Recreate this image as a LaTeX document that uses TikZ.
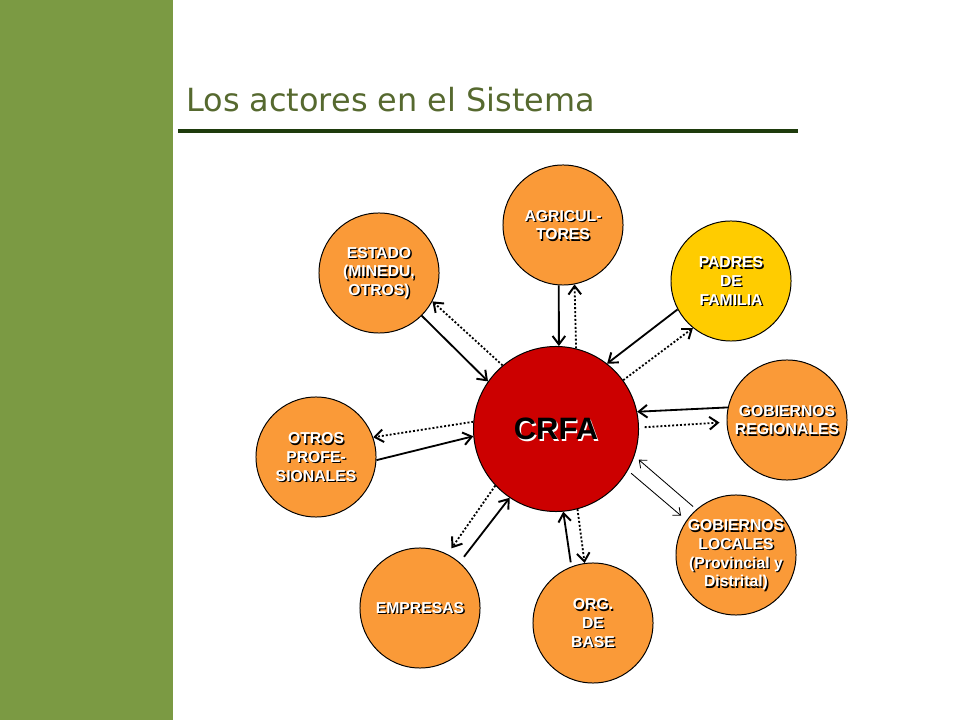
\documentclass[tikz,border=0pt]{standalone}
\usepackage{fontspec}
\setmainfont{Liberation Sans}
\newfontfamily\titlefont{DejaVu Sans}
\usepackage{tikz}
\usetikzlibrary{arrows.meta}

\definecolor{barra}{HTML}{7B9A43}
\definecolor{titulo}{HTML}{56692F}
\definecolor{raya}{HTML}{1E3B0C}
\definecolor{naranja}{HTML}{FA9A38}
\definecolor{rojo}{HTML}{CC0000}
\definecolor{amarillo}{HTML}{FFCC00}

% circulo con texto sombreado
\newcommand\actor[4][actor]{%
  \node[#1, path picture={\node[#1 sombra] at ([xshift=1pt,yshift=-1pt]path picture bounding box.center) {#4};}] (#2) at (#3) {#4};}

\begin{document}
\begin{tikzpicture}[x=0.025cm, y=-0.025cm,
    actor/.style={circle, draw=black, line width=.7pt, fill=naranja, minimum size=3cm, inner sep=0pt,
      align=center, text=white, font=\fontsize{11.2}{13.3}\selectfont\bfseries},
    actor sombra/.style={align=center, text=black, inner sep=0pt, font=\fontsize{11.2}{13.3}\selectfont\bfseries},
    padres/.style={actor, fill=amarillo},
    padres sombra/.style={actor sombra},
    centro/.style={circle, draw=black, line width=.7pt, fill=rojo, minimum size=4.125cm, inner sep=0pt,
      text=black, font=\fontsize{22}{24}\selectfont\bfseries},
    centro sombra/.style={text=white, inner sep=0pt, font=\fontsize{22}{24}\selectfont\bfseries},
    flecha/.style={line width=1.3pt, -{Straight Barb[length=6pt,width=9pt,line width=1.4pt]}},
    punteada/.style={flecha, dash pattern=on 1.4pt off 1.4pt},
    fina/.style={line width=.6pt, -{Straight Barb[length=4.5pt,width=7.5pt,line width=.6pt]}}]
    \useasboundingbox (0,0) rectangle (960,720);
    \fill[barra] (0,0) rectangle (173,720);  %barra lateral
    \node[anchor=base west, inner sep=0pt, text=titulo, font=\titlefont\fontsize{22.7}{26}\selectfont] (titulo) at (186,112) {Los actores en el Sistema};
    \draw[raya, line width=2.8pt] (178,131) -- (798,131);  %raya bajo el titulo

    \actor[centro]{crfa}{556,429}{CRFA}
    \actor{agri}{563,225}{AGRICUL-\\TORES}
    \actor{estado}{379,273}{ESTADO\\(MINEDU,\\OTROS)}
    \actor[padres]{padres}{731,281}{PADRES\\DE\\FAMILIA}
    \actor{gobreg}{787,420}{GOBIERNOS\\REGIONALES}
    \actor{gobloc}{736,555}{GOBIERNOS\\LOCALES\\(Provincial y\\Distrital)}
    \actor{otros}{316,457}{OTROS\\PROFE-\\SIONALES}
    \actor{empresas}{420,608}{EMPRESAS}
    \actor{org}{593,623}{ORG.\\DE\\BASE}

    \draw[flecha] (agri.-94) -- (crfa.88);
    \draw[punteada] (crfa.76) -- (agri.-79);
    \draw[flecha] (estado.-45) -- (crfa.145);
    \draw[punteada] (crfa.130) -- (estado.-28);
    \draw[flecha] (padres.208) -- (crfa.52);
    \draw[punteada] (crfa.36) -- (padres.231);
    \draw[flecha] (gobreg.168) -- (crfa.12);
    \draw[punteada, shorten <=4pt, shorten >=5pt] (crfa.1) -- (gobreg.182);
    \draw[fina, shorten <=3pt, shorten >=4pt] (gobloc.131) -- (crfa.-19);
    \draw[fina, shorten <=3pt, shorten >=5pt] (crfa.-30) -- (gobloc.145);
    \draw[punteada] (crfa.175) -- (otros.19);
    \draw[flecha] (otros.-3) -- (crfa.185);
    \draw[punteada, shorten >=5pt] (crfa.223) -- (empresas.63);
    \draw[flecha, shorten <=5pt] (empresas.49) -- (crfa.236);
    \draw[flecha, shorten <=3pt] (org.111) -- (crfa.-85);
    \draw[punteada] (crfa.-75) -- (org.98);
  \end{tikzpicture}
\end{document}
